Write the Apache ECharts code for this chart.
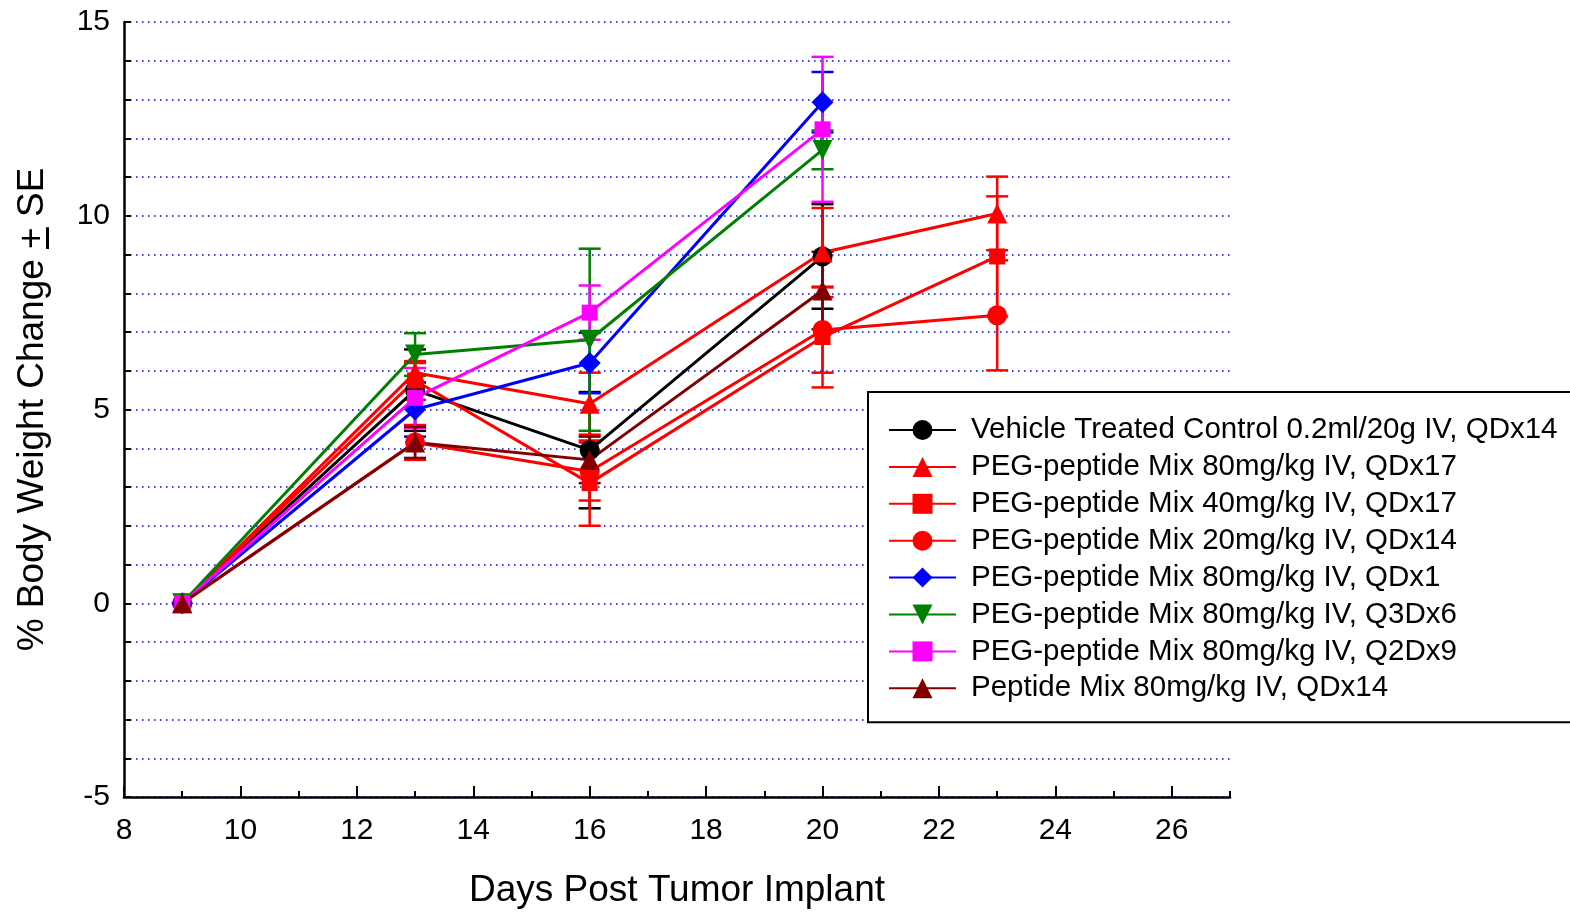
<!DOCTYPE html>
<html>
<head>
<meta charset="utf-8">
<script src="https://cdn.jsdelivr.net/npm/echarts@6/dist/echarts.min.js"></script>
<style>html,body{margin:0;padding:0;background:#fff;}#chart{width:1570px;height:912px;}</style>
</head>
<body>
<div id="chart"></div>
<script>
// ---- data ----
const days = [9, 13, 16, 20, 23];
const seriesNames = [
  'Vehicle Treated Control 0.2ml/20g IV, QDx14',
  'PEG-peptide Mix 80mg/kg IV, QDx17',
  'PEG-peptide Mix 40mg/kg IV, QDx17',
  'PEG-peptide Mix 20mg/kg IV, QDx14',
  'PEG-peptide Mix 80mg/kg IV, QDx1',
  'PEG-peptide Mix 80mg/kg IV, Q3Dx6',
  'PEG-peptide Mix 80mg/kg IV, Q2Dx9',
  'Peptide Mix 80mg/kg IV, QDx14'
];
const vehicle   = [0, 5.50, 3.95, 8.95, null];
const vehicleSE = [0, 1.05, 1.50, 1.35, null];
const peg80q17   = [0, 5.95, 5.15, 9.05, 10.06];
const peg80q17SE = [0, 0.25, 0.80, 1.15, 0.95];
const peg40q17   = [0, 5.75, 3.10, 6.87, 8.95];
const peg40q17SE = [0, 0.50, 1.10, 1.30, 1.55];
const peg20q14   = [0, 4.15, 3.40, 7.05, 7.43];
const peg20q14SE = [0, 0.45, 0.75, 1.10, 1.42];
const peg80q1    = [0, 5.00, 6.20, 12.93, null];
const peg80q1SE  = [0, 0.70, 0.78, 0.78, null];
const peg80q3d6   = [0, 6.42, 6.80, 11.70, null];
const peg80q3d6SE = [0, 0.55, 2.35, 0.50, null];
const peg80q2d9   = [0, 5.30, 7.50, 12.23, null];
const peg80q2d9SE = [0, 0.77, 0.70, 1.87, null];
const peptide80   = [0, 4.15, 3.70, 8.07, null];
const peptide80SE = [0, 0.40, 0.60, 1.00, null];
const xTickLabels = [8, 10, 12, 14, 16, 18, 20, 22, 24, 26];
const yTickLabels = [-5, 0, 5, 10, 15];

// ---- styles ----
const FONT = '"Liberation Sans", Arial, sans-serif';
const styles = [
  {color: '#000000', symbol: 'circle', size: 20},
  {color: '#ff0000', symbol: 'triangle', size: 20},
  {color: '#ff0000', symbol: 'rect', size: 16},
  {color: '#ff0000', symbol: 'circle', size: 20},
  {color: '#0000ff', symbol: 'diamond', size: [22, 22]},
  {color: '#008000', symbol: 'path://M0,0L20,0L10,20Z', size: 20},
  {color: '#ff00ff', symbol: 'rect', size: 16},
  {color: '#800000', symbol: 'triangle', size: 20}
];
const values = [vehicle, peg80q17, peg40q17, peg20q14, peg80q1, peg80q3d6, peg80q2d9, peptide80];
const errs = [vehicleSE, peg80q17SE, peg40q17SE, peg20q14SE, peg80q1SE, peg80q3d6SE, peg80q2d9SE, peptide80SE];

function makeErrRender(color) {
  return function (params, api) {
    const x = api.value(0), y = api.value(1), e = api.value(2);
    if (!e) return null;
    const t = api.coord([x, y + e]);
    const b = api.coord([x, y - e]);
    const hw = 11;
    const st = {stroke: color, lineWidth: 2.5};
    return {type: 'group', children: [
      {type: 'line', shape: {x1: t[0], y1: t[1], x2: b[0], y2: b[1]}, style: st},
      {type: 'line', shape: {x1: t[0] - hw, y1: t[1], x2: t[0] + hw, y2: t[1]}, style: st},
      {type: 'line', shape: {x1: b[0] - hw, y1: b[1], x2: b[0] + hw, y2: b[1]}, style: st}
    ]};
  };
}

const series = [];
values.forEach((vals, i) => {
  const st = styles[i];
  const lineData = [];
  const errData = [];
  days.forEach((d, j) => {
    if (vals[j] !== null && vals[j] !== undefined) {
      lineData.push([d, vals[j]]);
      errData.push([d, vals[j], errs[i][j]]);
    }
  });
  series.push({
    name: seriesNames[i] + ' SE',
    type: 'custom',
    renderItem: makeErrRender(st.color),
    data: errData,
    silent: true,
    animation: false,
    encode: {x: 0, y: 1}
  });
  series.push({
    name: seriesNames[i],
    type: 'line',
    data: lineData,
    symbol: st.symbol,
    symbolSize: st.size,
    showSymbol: true,
    showAllSymbol: true,
    itemStyle: {color: st.color, opacity: 1},
    lineStyle: {color: st.color, width: 3},
    emphasis: {disabled: true},
    animation: false
  });
});

const underline = {
  type: 'linear', x: 0, y: 0, x2: 0, y2: 1,
  colorStops: [
    {offset: 0, color: 'rgba(0,0,0,0)'},
    {offset: 0.84, color: 'rgba(0,0,0,0)'},
    {offset: 0.84, color: '#000000'},
    {offset: 0.92, color: '#000000'},
    {offset: 0.92, color: 'rgba(0,0,0,0)'},
    {offset: 1, color: 'rgba(0,0,0,0)'}
  ]
};

const chart = echarts.init(document.getElementById('chart'), null, {renderer: 'canvas'});
chart.setOption({
  backgroundColor: '#ffffff',
  animation: false,
  grid: {left: 124, right: 340, top: 22, bottom: 115, containLabel: false, outerBoundsMode: 'none'},
  legend: {
    data: seriesNames,
    orient: 'vertical',
    left: 868,
    top: 392,
    itemWidth: 67,
    itemHeight: 25,
    itemGap: 6.9,
    padding: [23, 40, 19, 20],
    borderColor: '#000000',
    borderWidth: 2,
    backgroundColor: '#ffffff',
    selectedMode: false,
    textStyle: {fontFamily: FONT, fontSize: 29.5, color: '#000000', lineHeight: 29.5, padding: [0, 0, 0, 10]}
  },
  xAxis: [{
    type: 'value',
    min: 8, max: 27, interval: 1,
    name: 'Days Post Tumor Implant',
    nameLocation: 'middle',
    nameGap: 75,
    nameTextStyle: {fontFamily: FONT, fontSize: 37, color: '#000000'},
    axisLine: {show: true, onZero: false, lineStyle: {color: '#000000', width: 2.5}},
    axisTick: {show: true, inside: true, length: 6, lineStyle: {color: '#000000', width: 2}},
    axisLabel: {customValues: xTickLabels, fontFamily: FONT, fontSize: 30, color: '#000000', margin: 19},
    splitLine: {show: false}
  }, {
    type: 'value',
    min: 8, max: 27, interval: 1,
    position: 'bottom',
    axisLine: {show: false, onZero: false},
    axisTick: {show: true, inside: true, length: 11, customValues: xTickLabels, lineStyle: {color: '#000000', width: 2}},
    axisLabel: {show: false},
    splitLine: {show: false}
  }],
  yAxis: {
    type: 'value',
    min: -5, max: 15, interval: 1,
    name: '{a|% Body Weight Change }{u|+}{a| SE}',
    nameLocation: 'middle',
    nameGap: 71,
    nameRotate: 90,
    nameTextStyle: {
      fontFamily: FONT, fontSize: 37, color: '#000000',
      rich: {
        a: {fontFamily: FONT, fontSize: 37, color: '#000000', lineHeight: 40},
        u: {fontFamily: FONT, fontSize: 37, color: '#000000', lineHeight: 40, backgroundColor: underline}
      }
    },
    axisLine: {show: true, onZero: false, lineStyle: {color: '#000000', width: 2.5}},
    axisTick: {show: true, inside: true, length: 7, lineStyle: {color: '#000000', width: 2}},
    axisLabel: {customValues: yTickLabels, fontFamily: FONT, fontSize: 30, color: '#000000', margin: 14},
    splitLine: {show: true, lineStyle: {color: '#0000ff', width: 1.5, type: [1.5, 4.5]}}
  },
  series: series
});
</script>
</body>
</html>
